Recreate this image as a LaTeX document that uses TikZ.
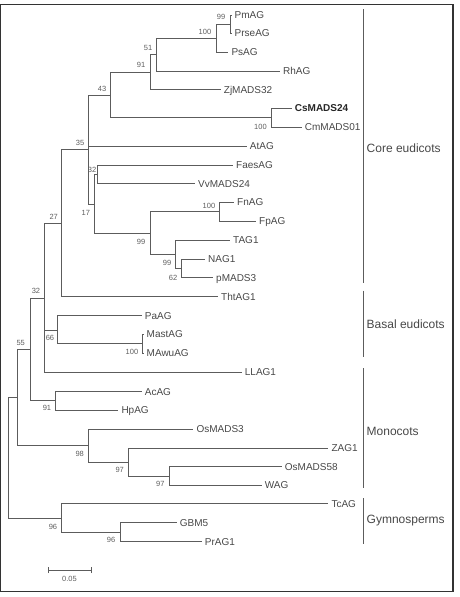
\documentclass[tikz,border=0pt]{standalone}
\usepackage{fontspec}
\setmainfont{Liberation Sans}
\definecolor{treegrey}{HTML}{5C5C5C}
\definecolor{textgrey}{HTML}{474747}
\definecolor{bsgrey}{HTML}{5E5E5E}
\definecolor{framegrey}{HTML}{333333}
\begin{document}
\begin{tikzpicture}[x=1pt,y=-1pt,
  br/.style={draw=treegrey, line width=0.9pt},
  tiplab/.style={anchor=west, inner sep=0pt, xshift=3pt, text height=7.2pt, text depth=0pt, font=\fontsize{10}{12}\selectfont, text=textgrey},
  bs/.style={inner sep=0pt, text height=5.4pt, text depth=0pt, font=\fontsize{7.5}{9}\selectfont, text=bsgrey},
  clade/.style={anchor=west, inner sep=0pt, text height=8.6pt, text depth=0pt, font=\fontsize{12}{14}\selectfont, text=textgrey},
  cbar/.style={draw=treegrey, line width=1pt}]
\useasboundingbox (0,0) rectangle (459,597);
\draw[draw=framegrey, line width=1.2pt] (0.8,4.3) rectangle (453,591.7);

% ---- tips ----
\coordinate (tPmAG) at (231.5,15);
\coordinate (tPrseAG) at (231.5,33);
\coordinate (tPsAG) at (228.3,52);
\coordinate (tRhAG) at (280,71);
\coordinate (tZj) at (220.7,89.5);
\coordinate (tCs) at (291.7,108);
\coordinate (tCm) at (301.7,127);
\coordinate (tAtAG) at (246.7,146);
\coordinate (tFaes) at (233,165);
\coordinate (tVv) at (195,183.5);
\coordinate (tFn) at (234,202);
\coordinate (tFp) at (256,221);
\coordinate (tTAG) at (230,240);
\coordinate (tNAG) at (205,259);
\coordinate (tpMADS) at (213,277.5);
\coordinate (tTht) at (218,296.7);
\coordinate (tPaAG) at (141.7,315.5);
\coordinate (tMast) at (143.5,334);
\coordinate (tMAwu) at (143.5,353);
\coordinate (tLLAG) at (241.7,372);
\coordinate (tAcAG) at (141.7,391.5);
\coordinate (tHpAG) at (118.3,410);
\coordinate (tOs3) at (193.3,429);
\coordinate (tZAG) at (328.3,448);
\coordinate (tOs58) at (281.7,466.5);
\coordinate (tWAG) at (261.7,485);
\coordinate (tTcAG) at (328.3,503.5);
\coordinate (tGBM) at (176.7,522.5);
\coordinate (tPrAG) at (201.7,541.5);

% ---- internal nodes ----
\coordinate (n99) at (230.5,24);
\coordinate (n100a) at (216,38);
\coordinate (n51) at (156.7,54.5);
\coordinate (n91) at (150.7,72);
\coordinate (nCs) at (271,117.5);
\coordinate (n43) at (110,95);
\coordinate (n32a) at (97.3,174);
\coordinate (n100b) at (219.3,211.5);
\coordinate (n62) at (181.7,268);
\coordinate (n99b) at (175.7,254);
\coordinate (n99c) at (150.7,233);
\coordinate (n17) at (94,204);
\coordinate (n35) at (88.3,149.5);
\coordinate (n27) at (61.7,223);
\coordinate (n100c) at (142.7,343.5);
\coordinate (n66) at (57.3,330);
\coordinate (n32b) at (44.3,298);
\coordinate (n91b) at (55.7,400.7);
\coordinate (n55) at (30,349);
\coordinate (n97b) at (169,476);
\coordinate (n97a) at (128.3,462);
\coordinate (n98) at (88.3,445);
\coordinate (nAng) at (17.3,397);
\coordinate (n96b) at (120,532);
\coordinate (n96) at (61.7,518);
\coordinate (root) at (8.3,457.5);

% ---- branches ----
\draw[br] (n99) |- (tPmAG);
\draw[br] (n99) |- (tPrseAG);
\draw[br] (n100a) |- (n99);
\draw[br] (n100a) |- (tPsAG);
\draw[br] (n51) |- (n100a);
\draw[br] (n51) |- (tRhAG);
\draw[br] (n91) |- (n51);
\draw[br] (n91) |- (tZj);
\draw[br] (nCs) |- (tCs);
\draw[br] (nCs) |- (tCm);
\draw[br] (n43) |- (n91);
\draw[br] (n43) |- (nCs);
\draw[br] (n32a) |- (tFaes);
\draw[br] (n32a) |- (tVv);
\draw[br] (n100b) |- (tFn);
\draw[br] (n100b) |- (tFp);
\draw[br] (n62) |- (tNAG);
\draw[br] (n62) |- (tpMADS);
\draw[br] (n99b) |- (tTAG);
\draw[br] (n99b) |- (n62);
\draw[br] (n99c) |- (n100b);
\draw[br] (n99c) |- (n99b);
\draw[br] (n17) |- (n32a);
\draw[br] (n17) |- (n99c);
\draw[br] (n35) |- (n43);
\draw[br] (n35) |- (tAtAG);
\draw[br] (n35) |- (n17);
\draw[br] (n27) |- (n35);
\draw[br] (n27) |- (tTht);
\draw[br] (n100c) |- (tMast);
\draw[br] (n100c) |- (tMAwu);
\draw[br] (n66) |- (tPaAG);
\draw[br] (n66) |- (n100c);
\draw[br] (n32b) |- (n27);
\draw[br] (n32b) |- (n66);
\draw[br] (n32b) |- (tLLAG);
\draw[br] (n91b) |- (tAcAG);
\draw[br] (n91b) |- (tHpAG);
\draw[br] (n55) |- (n32b);
\draw[br] (n55) |- (n91b);
\draw[br] (n97b) |- (tOs58);
\draw[br] (n97b) |- (tWAG);
\draw[br] (n97a) |- (tZAG);
\draw[br] (n97a) |- (n97b);
\draw[br] (n98) |- (tOs3);
\draw[br] (n98) |- (n97a);
\draw[br] (nAng) |- (n55);
\draw[br] (nAng) |- (n98);
\draw[br] (n96b) |- (tGBM);
\draw[br] (n96b) |- (tPrAG);
\draw[br] (n96) |- (tTcAG);
\draw[br] (n96) |- (n96b);
\draw[br] (root) |- (nAng);
\draw[br] (root) |- (n96);

% ---- tip labels ----
\node[tiplab] (lPmAG) at (tPmAG) {PmAG};
\node[tiplab] (lPrseAG) at (tPrseAG) {PrseAG};
\node[tiplab] (lPsAG) at (tPsAG) {PsAG};
\node[tiplab] (lRhAG) at (tRhAG) {RhAG};
\node[tiplab] (lZj) at (tZj) {ZjMADS32};
\node[tiplab, font=\fontsize{10}{12}\selectfont\bfseries, text=black!85] (lCs) at (tCs) {CsMADS24};
\node[tiplab] (lCm) at (tCm) {CmMADS01};
\node[tiplab] (lAtAG) at (tAtAG) {AtAG};
\node[tiplab] (lFaes) at (tFaes) {FaesAG};
\node[tiplab] (lVv) at (tVv) {VvMADS24};
\node[tiplab] (lFn) at (tFn) {FnAG};
\node[tiplab] (lFp) at (tFp) {FpAG};
\node[tiplab] (lTAG) at (tTAG) {TAG1};
\node[tiplab] (lNAG) at (tNAG) {NAG1};
\node[tiplab] (lpMADS) at (tpMADS) {pMADS3};
\node[tiplab] (lTht) at (tTht) {ThtAG1};
\node[tiplab] (lPaAG) at (tPaAG) {PaAG};
\node[tiplab] (lMast) at (tMast) {MastAG};
\node[tiplab] (lMAwu) at (tMAwu) {MAwuAG};
\node[tiplab] (lLLAG) at (tLLAG) {LLAG1};
\node[tiplab] (lAcAG) at (tAcAG) {AcAG};
\node[tiplab] (lHpAG) at (tHpAG) {HpAG};
\node[tiplab] (lOs3) at (tOs3) {OsMADS3};
\node[tiplab] (lZAG) at (tZAG) {ZAG1};
\node[tiplab] (lOs58) at (tOs58) {OsMADS58};
\node[tiplab] (lWAG) at (tWAG) {WAG};
\node[tiplab] (lTcAG) at (tTcAG) {TcAG};
\node[tiplab] (lGBM) at (tGBM) {GBM5};
\node[tiplab] (lPrAG) at (tPrAG) {PrAG1};

% ---- bootstrap values ----
\node[bs] (b99) at (221,17) {99};
\node[bs] (b100a) at (205,31.7) {100};
\node[bs] (b51) at (148,48) {51};
\node[bs] (b91) at (141,65) {91};
\node[bs] (b43) at (102,89) {43};
\node[bs] (bCs) at (260.5,127) {100};
\node[bs] (b35) at (80,143) {35};
\node[bs] (b32a) at (92,170) {32};
\node[bs] (b17) at (85.8,212.7) {17};
\node[bs] (b100b) at (209,206) {100};
\node[bs] (b99c) at (141,242) {99};
\node[bs] (b99b) at (167,263) {99};
\node[bs] (b62) at (173,278) {62};
\node[bs] (b27) at (53.7,216.7) {27};
\node[bs] (b32b) at (36,291) {32};
\node[bs] (b66) at (50,338) {66};
\node[bs] (b100c) at (132,352) {100};
\node[bs] (b55) at (20.7,342.7) {55};
\node[bs] (b91b) at (47,408) {91};
\node[bs] (b98) at (79.7,453.3) {98};
\node[bs] (b97a) at (119.7,470) {97};
\node[bs] (b97b) at (160.3,484) {97};
\node[bs] (b96) at (53,526.7) {96};
\node[bs] (b96b) at (111,540) {96};

% ---- clade bars ----
\coordinate (c1a) at (363.3,9.3);  \coordinate (c1b) at (363.3,283.3);
\coordinate (c2a) at (363.3,290.7); \coordinate (c2b) at (363.3,356.7);
\coordinate (c3a) at (363.3,368.3); \coordinate (c3b) at (363.3,487.7);
\coordinate (c4a) at (363.3,498.3); \coordinate (c4b) at (363.3,544.3);
\draw[cbar] (c1a) -- (c1b);
\draw[cbar] (c2a) -- (c2b);
\draw[cbar] (c3a) -- (c3b);
\draw[cbar] (c4a) -- (c4b);
\node[clade] (k1) at (366.5,148.3) {Core eudicots};
\node[clade] (k2) at (366.5,324) {Basal eudicots};
\node[clade] (k3) at (366.5,431) {Monocots};
\node[clade] (k4) at (366.5,519.3) {Gymnosperms};

% ---- scale bar ----
\coordinate (sa) at (48.3,570);
\coordinate (sb) at (91,570);
\draw[br] (sa) -- (sb);
\draw[br] ([yshift=-3pt]sa) -- ([yshift=3pt]sa);
\draw[br] ([yshift=-3pt]sb) -- ([yshift=3pt]sb);
\node[bs] (slab) at (69.5,578.5) {0.05};
\end{tikzpicture}
\end{document}
